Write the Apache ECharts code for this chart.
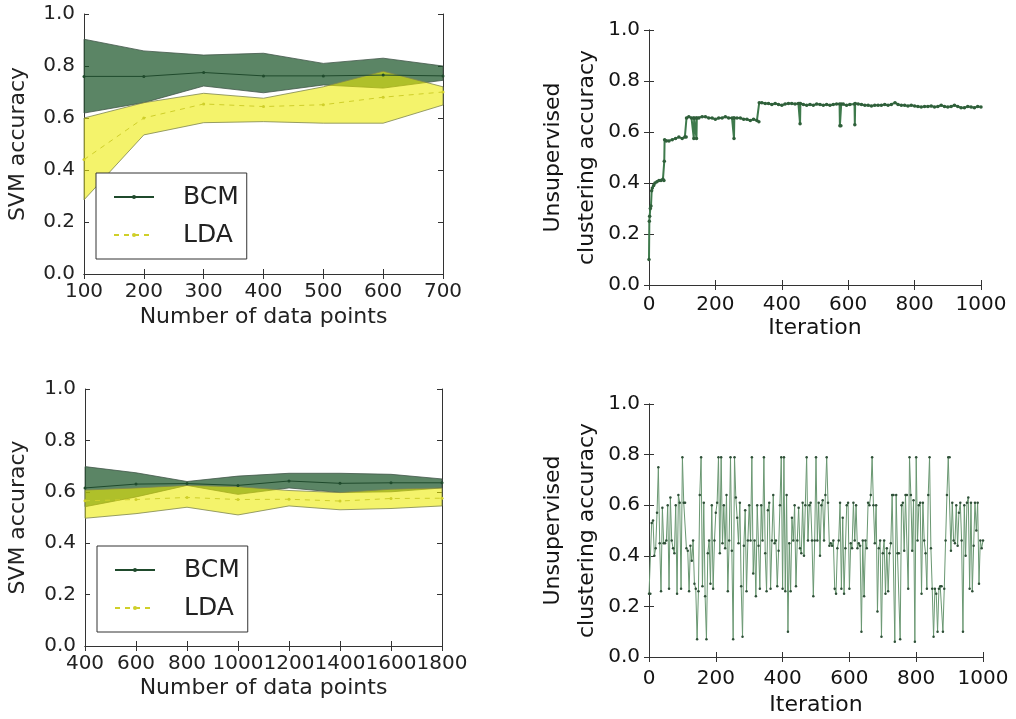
<!DOCTYPE html>
<html>
<head>
<meta charset="utf-8">
<script src="https://cdn.jsdelivr.net/npm/echarts@6/dist/echarts.min.js"></script>
<style>html,body{margin:0;padding:0;background:#fff}#c{width:1016px;height:719px}</style>
</head>
<body>
<div id="c"></div>
<script>
// ---------- Data ----------
const tlX = [100, 200, 300, 400, 500, 600, 700];
const tlBcmMean  = [0.760, 0.760, 0.775, 0.762, 0.762, 0.765, 0.762];
const tlBcmUpper = [0.903, 0.858, 0.842, 0.849, 0.810, 0.830, 0.800];
const tlBcmLower = [0.619, 0.659, 0.723, 0.697, 0.727, 0.715, 0.745];
const tlLdaMean  = [0.440, 0.600, 0.654, 0.644, 0.651, 0.680, 0.700];
const tlLdaUpper = [0.600, 0.659, 0.695, 0.676, 0.720, 0.780, 0.720];
const tlLdaLower = [0.285, 0.535, 0.582, 0.586, 0.580, 0.580, 0.650];

const blX = [400, 600, 800, 1000, 1200, 1400, 1600, 1800];
const blBcmMean  = [0.615, 0.630, 0.632, 0.625, 0.642, 0.633, 0.635, 0.635];
const blBcmUpper = [0.698, 0.674, 0.640, 0.661, 0.672, 0.672, 0.668, 0.650];
const blBcmLower = [0.542, 0.580, 0.625, 0.590, 0.615, 0.597, 0.600, 0.615];
const blLdaMean  = [0.565, 0.570, 0.578, 0.570, 0.571, 0.564, 0.574, 0.575];
const blLdaUpper = [0.607, 0.615, 0.625, 0.620, 0.605, 0.597, 0.610, 0.615];
const blLdaLower = [0.497, 0.515, 0.540, 0.510, 0.545, 0.530, 0.535, 0.545];

// top-right: [iteration, accuracy]
const trSeries = [
[0,0.10],[1,0.25],[2,0.27],[4,0.30],[6,0.31],[8,0.37],[10,0.38],[14,0.39],[18,0.40],[24,0.405],[30,0.41],[36,0.41],[42,0.415],[45,0.41],[46,0.485],[47,0.57],[52,0.565],[60,0.565],[70,0.57],[80,0.575],[90,0.58],[100,0.575],[108,0.58],[112,0.58],[113,0.655],[120,0.66],[128,0.655],[134,0.655],[135,0.575],[136,0.655],[142,0.655],[143,0.575],[144,0.655],[150,0.655],[160,0.66],[170,0.66],[180,0.655],[190,0.655],[200,0.65],[210,0.655],[220,0.655],[230,0.66],[240,0.655],[250,0.655],[255,0.655],[256,0.575],[257,0.655],[265,0.655],[275,0.655],[285,0.65],[295,0.65],[305,0.645],[315,0.65],[325,0.645],[331,0.64],[332,0.715],[340,0.715],[350,0.712],[360,0.712],[370,0.708],[380,0.712],[390,0.708],[400,0.705],[410,0.71],[420,0.712],[430,0.712],[440,0.71],[450,0.712],[454,0.712],[455,0.632],[456,0.712],[465,0.708],[475,0.705],[485,0.708],[495,0.705],[505,0.71],[515,0.708],[525,0.705],[535,0.708],[545,0.705],[555,0.708],[565,0.71],[574,0.71],[575,0.625],[578,0.625],[579,0.71],[585,0.71],[595,0.705],[605,0.708],[619,0.71],[620,0.628],[621,0.712],[630,0.71],[640,0.708],[650,0.705],[660,0.705],[670,0.702],[680,0.705],[690,0.705],[700,0.705],[710,0.708],[720,0.705],[730,0.708],[741,0.715],[750,0.708],[760,0.705],[770,0.705],[780,0.702],[790,0.705],[800,0.702],[810,0.70],[820,0.698],[830,0.70],[840,0.70],[850,0.702],[860,0.698],[870,0.70],[880,0.705],[890,0.70],[900,0.698],[910,0.70],[920,0.705],[930,0.70],[940,0.695],[950,0.695],[960,0.70],[970,0.698],[980,0.695],[990,0.70],[1000,0.698]
];

// bottom-right: accuracy sampled every brStep iterations
const brStep = 4;
const brValues = [
0.25,0.25,0.53,0.54,0.40,0.43,0.57,0.75,0.45,0.26,0.59,0.45,0.45,0.46,0.60,0.27,0.63,0.46,0.43,0.41,0.60,0.25,0.64,0.61,0.27,
0.79,0.61,0.61,0.43,0.42,0.26,0.44,0.38,0.46,0.29,0.27,0.07,0.26,0.64,0.79,0.28,0.61,0.24,0.07,0.41,0.46,0.29,0.60,0.27,0.46,
0.57,0.61,0.79,0.41,0.79,0.45,0.60,0.43,0.64,0.26,0.46,0.79,0.42,0.07,0.79,0.63,0.55,0.45,0.61,0.28,0.08,0.44,0.58,0.26,0.46,
0.60,0.46,0.79,0.33,0.46,0.24,0.60,0.44,0.27,0.60,0.46,0.79,0.41,0.26,0.58,0.61,0.27,0.46,0.64,0.45,0.46,0.28,0.42,0.60,0.79,
0.27,0.79,0.26,0.64,0.10,0.45,0.26,0.55,0.46,0.60,0.28,0.46,0.59,0.43,0.41,0.61,0.40,0.60,0.79,0.46,0.60,0.61,0.46,0.24,0.46,
0.79,0.46,0.61,0.40,0.60,0.62,0.46,0.64,0.79,0.61,0.44,0.45,0.44,0.46,0.27,0.25,0.43,0.46,0.61,0.27,0.55,0.25,0.43,0.60,0.61,
0.27,0.45,0.43,0.61,0.46,0.60,0.43,0.45,0.44,0.10,0.46,0.24,0.46,0.43,0.61,0.60,0.64,0.79,0.60,0.45,0.60,0.18,0.43,0.46,0.08,
0.41,0.46,0.25,0.43,0.26,0.41,0.45,0.64,0.64,0.06,0.64,0.41,0.41,0.07,0.60,0.61,0.42,0.64,0.64,0.27,0.79,0.64,0.42,0.62,0.06,
0.79,0.46,0.60,0.61,0.25,0.61,0.46,0.41,0.27,0.64,0.79,0.43,0.27,0.08,0.27,0.25,0.10,0.27,0.28,0.28,0.10,0.27,0.46,0.64,0.79,
0.79,0.42,0.61,0.46,0.45,0.60,0.44,0.57,0.61,0.46,0.10,0.60,0.40,0.61,0.63,0.27,0.61,0.26,0.44,0.61,0.50,0.61,0.29,0.46,0.43,0.46
];

// ---------- Styling ----------
const FONT = 'DejaVu Sans';
const TXT = '#222';
const TXT_R = '#141414';
const AX = '#333';
const BCM_FILL = 'rgba(21,81,36,0.70)';
const LDA_FILL = 'rgba(236,235,0,0.58)';
const BCM_EDGE = '#42574a';
const LDA_EDGE = '#7d8550';
const BCM_LINE = '#1f4a2c';
const LDA_LINE = '#cfcf2a';

const grids = [
  {left: 82, top: 14, width: 361, height: 260},
  {left: 649, top: 30, width: 332, height: 255},
  {left: 83, top: 389, width: 359, height: 257},
  {left: 649, top: 404, width: 334, height: 253}
];

const xAxes = [], yAxes = [];
function addAxes(gi, xmin, xmax, xint, xname, yname, yGap, xGap, xMargin, color) {
  const tick = {show: true, inside: true, length: 5, lineStyle: {color: AX, width: 1}};
  xAxes.push({
    type: 'value', gridIndex: gi, min: xmin, max: xmax, interval: xint, position: 'bottom',
    name: xname, nameLocation: 'middle', nameGap: xGap,
    nameTextStyle: {fontFamily: FONT, fontSize: 22, color: color},
    axisLine: {show: true, lineStyle: {color: AX, width: 1}}, axisTick: tick,
    axisLabel: {fontFamily: FONT, fontSize: 20, color: color, margin: xMargin, formatter: v => String(v)},
    splitLine: {show: false}
  });
  xAxes.push({
    type: 'value', gridIndex: gi, min: xmin, max: xmax, interval: xint, position: 'top',
    axisLine: {show: true, lineStyle: {color: AX, width: 1}}, axisTick: tick,
    axisLabel: {show: false}, splitLine: {show: false}
  });
  yAxes.push({
    type: 'value', gridIndex: gi, min: 0, max: 1, interval: 0.2, position: 'left',
    name: yname, nameLocation: 'middle', nameGap: yGap, nameRotate: 90,
    nameTextStyle: {fontFamily: FONT, fontSize: 22, color: color, lineHeight: 34, align: 'center'},
    axisLine: {show: true, lineStyle: {color: AX, width: 1}}, axisTick: tick,
    axisLabel: {fontFamily: FONT, fontSize: 20, color: color, margin: 9, formatter: v => v.toFixed(1)},
    splitLine: {show: false}
  });
  yAxes.push({
    type: 'value', gridIndex: gi, min: 0, max: 1, interval: 0.2, position: 'right',
    axisLine: {show: true, lineStyle: {color: AX, width: 1}}, axisTick: tick,
    axisLabel: {show: false}, splitLine: {show: false}
  });
}
addAxes(0, 100, 700, 100, 'Number of data points', 'SVM accuracy', 49, 32, 8, TXT);
addAxes(1, 0, 1000, 200, 'Iteration', 'Unsupervised\nclustering accuracy', 30, 32, 10, TXT_R);
addAxes(2, 400, 1800, 200, 'Number of data points', 'SVM accuracy', 50, 31, 8, TXT);
addAxes(3, 0, 1000, 200, 'Iteration', 'Unsupervised\nclustering accuracy', 30, 37, 12, TXT_R);

const pairs = (xs, ys) => xs.map((x, i) => [x, ys[i]]);

// filled band between an upper and a lower curve, positioned with the axis scales
function band(gi, xs, hi, lo, fill, stroke, z) {
  return {
    type: 'custom', xAxisIndex: gi * 2, yAxisIndex: gi * 2, silent: true, z: z,
    data: [[xs[0], lo[0]]],
    renderItem: (params, api) => {
      const top = xs.map((x, i) => api.coord([x, hi[i]]));
      const bot = xs.map((x, i) => api.coord([x, lo[i]])).reverse();
      return {type: 'polygon', shape: {points: top.concat(bot)},
              style: {fill: fill, stroke: stroke, lineWidth: 0.8}};
    }
  };
}

function bandSeries(gi, xs, bM, bU, bL, lM, lU, lL) {
  const ax = {xAxisIndex: gi * 2, yAxisIndex: gi * 2};
  return [
    band(gi, xs, bU, bL, BCM_FILL, BCM_EDGE, 2),
    band(gi, xs, lU, lL, LDA_FILL, LDA_EDGE, 3),
    Object.assign({type: 'line', name: 'BCM', data: pairs(xs, bM), symbol: 'circle', symbolSize: 3,
      itemStyle: {color: BCM_LINE}, lineStyle: {color: BCM_LINE, width: 1}, z: 4}, ax),
    Object.assign({type: 'line', name: 'LDA', data: pairs(xs, lM), symbol: 'circle', symbolSize: 3,
      itemStyle: {color: LDA_LINE}, lineStyle: {color: LDA_LINE, width: 1, type: [5, 5]}, z: 4}, ax)
  ];
}

const series = [].concat(
  bandSeries(0, tlX, tlBcmMean, tlBcmUpper, tlBcmLower, tlLdaMean, tlLdaUpper, tlLdaLower),
  bandSeries(2, blX, blBcmMean, blBcmUpper, blBcmLower, blLdaMean, blLdaUpper, blLdaLower),
  [{
    type: 'line', name: 'trace', xAxisIndex: 2, yAxisIndex: 2, data: trSeries,
    symbol: 'circle', symbolSize: 3.5, itemStyle: {color: '#2f5f3a'},
    lineStyle: {color: '#3e7a4c', width: 2}, z: 4
  }, {
    type: 'line', name: 'trace2', xAxisIndex: 6, yAxisIndex: 6,
    data: brValues.map((v, i) => [i * brStep, v]),
    symbol: 'circle', symbolSize: 2.5, itemStyle: {color: '#2f5038'},
    lineStyle: {color: '#6a9872', width: 1}, z: 4
  }]
);

function legendAt(left, top) {
  return {
    data: ['BCM', 'LDA'], orient: 'vertical', left: left, top: top,
    padding: [9, 8, 9, 17], itemGap: 8, itemWidth: 40, itemHeight: 5,
    borderColor: '#333', borderWidth: 1, backgroundColor: '#fff', borderRadius: 0,
    selectedMode: false, z: 10,
    textStyle: {fontFamily: FONT, fontSize: 25, color: TXT, lineHeight: 30, padding: [0, 0, 0, 24]}
  };
}

const chart = echarts.init(document.getElementById('c'), null, {renderer: 'canvas'});
chart.setOption({
  animation: false,
  backgroundColor: '#fff',
  grid: grids.map(g => Object.assign({containLabel: false, show: false}, g)),
  xAxis: xAxes,
  yAxis: yAxes,
  legend: [legendAt(96, 173), legendAt(97, 546)],
  series: series
});
</script>
</body>
</html>
